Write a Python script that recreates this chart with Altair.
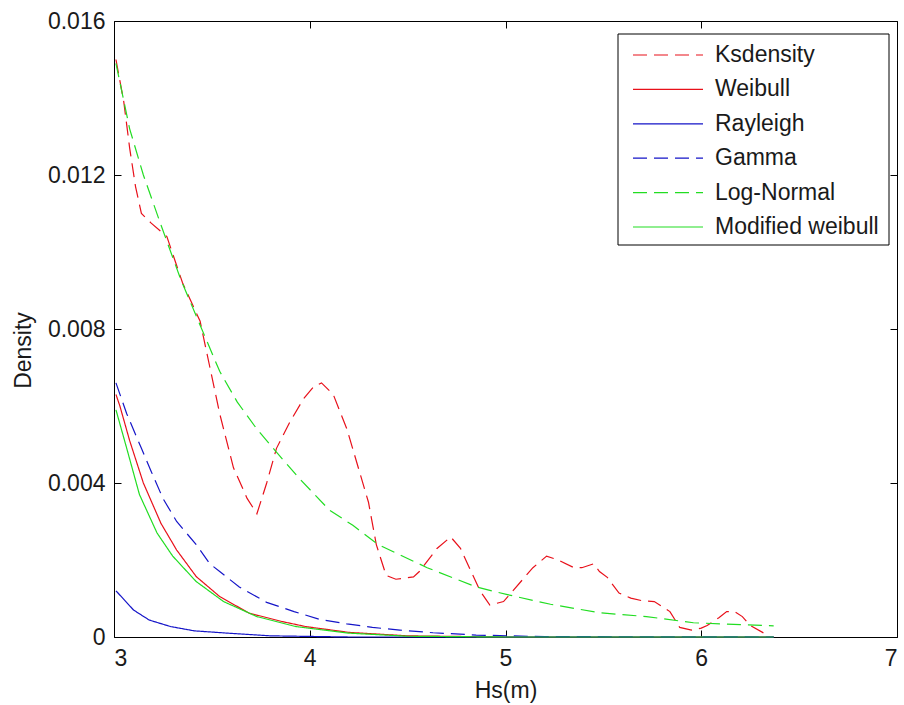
import altair as alt
import pandas as pd

FONT = "Liberation Sans"
TXT = "#1a1a1a"

series_names = ["Ksdensity", "Weibull", "Rayleigh", "Gamma", "Log-Normal", "Modified weibull"]
series_colors = ["#e8101a", "#e8101a", "#1515c8", "#1515c8", "#22dd22", "#22dd22"]
DASH = [14, 7]
SOLID = [1, 0]
series_dash = [DASH, SOLID, SOLID, DASH, DASH, SOLID]

x_ticks = [3, 4, 5, 6, 7]
y_ticks = [0, 0.004, 0.008, 0.012, 0.016]

ks_x = [3.01, 3.05, 3.08, 3.11, 3.14, 3.19, 3.27, 3.35, 3.44, 3.49, 3.54, 3.61, 3.68, 3.73,
        3.78, 3.83, 3.90, 3.97, 4.02, 4.06, 4.12, 4.19, 4.30, 4.34, 4.39, 4.44, 4.53, 4.56,
        4.65, 4.72, 4.77, 4.87, 4.92, 4.99, 5.14, 5.21, 5.27, 5.35, 5.39, 5.45, 5.48, 5.52,
        5.58, 5.64, 5.70, 5.76, 5.84, 5.89, 5.95, 6.00, 6.03, 6.09, 6.13, 6.17, 6.21, 6.25,
        6.32, 6.34]
ks_y = [0.0150, 0.0139, 0.0127, 0.0117, 0.0110, 0.01075, 0.0104, 0.0092, 0.0082, 0.0070,
        0.0058, 0.0044, 0.0036, 0.0032, 0.0040, 0.0049, 0.0056, 0.0062, 0.0065, 0.0066,
        0.0063, 0.0054, 0.0035, 0.0024, 0.0016, 0.0015, 0.00156, 0.0017, 0.0023, 0.0026,
        0.0023, 0.0012, 0.00083, 0.00092, 0.0018, 0.0021, 0.0020, 0.0018, 0.0018, 0.0019,
        0.0017, 0.00155, 0.00114, 0.00101, 0.00094, 0.00092, 0.00066, 0.00025, 0.00018,
        0.00023, 0.0003, 0.0005, 0.00066, 0.00066, 0.00053, 0.0003, 0.0001, 0.00002]

wb_x = [3.01, 3.03, 3.08, 3.15, 3.24, 3.32, 3.42, 3.54, 3.69, 3.86, 3.98, 4.2, 4.5, 5.0, 6.37]
wb_y = [0.0063, 0.0060, 0.0051, 0.0040, 0.00295, 0.00226, 0.00157, 0.00105, 0.00062, 0.0004,
        0.00027, 0.00012, 0.00003, 0.0, 0.0]

ray_x = [3.01, 3.10, 3.18, 3.29, 3.41, 3.58, 3.8, 4.2, 6.37]
ray_y = [0.0012, 0.0007, 0.00044, 0.00027, 0.00016, 0.0001, 0.00003, 0.0, 0.0]

gam_x = [3.01, 3.065, 3.14, 3.19, 3.25, 3.32, 3.42, 3.49, 3.54, 3.64, 3.78, 3.92, 4.05, 4.19,
         4.32, 4.46, 4.63, 4.85, 5.2, 6.37]
gam_y = [0.0066, 0.0058, 0.0049, 0.0043, 0.0036, 0.0030, 0.0024, 0.0019, 0.0017, 0.0013,
         0.0009, 0.00066, 0.00046, 0.00034, 0.00025, 0.00018, 0.00011, 0.00005, 0.00001, 0.0]

ln_x = [3.01, 3.08, 3.15, 3.24, 3.34, 3.44, 3.54, 3.63, 3.73, 3.83, 3.95, 4.10, 4.22, 4.35,
        4.60, 4.85, 5.01, 5.23, 5.48, 5.72, 5.96, 6.20, 6.37]
ln_y = [0.0149, 0.0132, 0.0120, 0.0107, 0.0093, 0.0081, 0.0069, 0.0061, 0.0054, 0.0048,
        0.0041, 0.0033, 0.0029, 0.0024, 0.0018, 0.0013, 0.0011, 0.00085, 0.00063, 0.00053,
        0.00037, 0.00032, 0.00029]

mw_x = [3.01, 3.065, 3.13, 3.22, 3.30, 3.42, 3.56, 3.73, 3.93, 4.2, 4.5, 5.0, 6.37]
mw_y = [0.0059, 0.0049, 0.0037, 0.0027, 0.0021, 0.00144, 0.00092, 0.00053, 0.00027, 0.0001,
        0.00002, 0.0, 0.0]

series_data = [
    ("Ksdensity", ks_x, ks_y),
    ("Weibull", wb_x, wb_y),
    ("Rayleigh", ray_x, ray_y),
    ("Gamma", gam_x, gam_y),
    ("Log-Normal", ln_x, ln_y),
    ("Modified weibull", mw_x, mw_y),
]
rows = []
for name, xs, ys in series_data:
    for xv, yv in zip(xs, ys):
        rows.append({"series": name, "hs": xv, "density": yv})
df = pd.DataFrame(rows)
legend_df = pd.DataFrame({"series": series_names})

x_scale = alt.Scale(domain=[3, 7], nice=False, zero=False)
y_scale = alt.Scale(domain=[0, 0.016], nice=False, zero=False)
color_scale = alt.Scale(domain=series_names, range=series_colors)
dash_scale = alt.Scale(domain=series_names, range=series_dash)

common_axis = dict(domain=False, grid=False, tickSize=7, tickColor="black", tickWidth=1,
                   labelFont=FONT, titleFont=FONT, labelFontSize=23, titleFontSize=23,
                   titleFontWeight="normal", labelColor=TXT, titleColor=TXT)

lines = alt.Chart(df).mark_line(strokeWidth=1.2).encode(
    x=alt.X("hs:Q", scale=x_scale,
            axis=alt.Axis(orient="bottom", offset=-7, values=x_ticks, format="d",
                          title="Hs(m)", labelPadding=10, titleY=60, titleBaseline="middle",
                          **common_axis)),
    y=alt.Y("density:Q", scale=y_scale,
            axis=alt.Axis(orient="left", offset=-7, values=y_ticks,
                          labelExpr="datum.value == 0 ? '0' : format(datum.value, '.3f')",
                          title="Density", labelPadding=9, titleX=-98, titleY=329,
                          titleAngle=270, titleAlign="center", titleBaseline="middle",
                          **common_axis)),
    color=alt.Color("series:N", scale=color_scale, legend=None),
    strokeDash=alt.StrokeDash("series:N", scale=dash_scale, legend=None),
)

frame_ticks = alt.Chart(df).mark_point(opacity=0).encode(
    x=alt.X("hs:Q", scale=x_scale,
            axis=alt.Axis(orient="top", offset=-7, values=x_ticks, labels=False, title=None,
                          **common_axis)),
    y=alt.Y("density:Q", scale=y_scale,
            axis=alt.Axis(orient="right", offset=-7, values=y_ticks, labels=False, title=None,
                          **common_axis)),
)

# legend (box, line samples, labels)
legend_row = alt.Y("series:N", axis=None,
                   scale=alt.Scale(type="point", domain=series_names, range=[34, 206], padding=0))

legend_box = alt.Chart(pd.DataFrame({"k": [0]})).mark_rect(
    fill="white", stroke="black", strokeWidth=1
).encode(x=alt.value(504), x2=alt.value(775), y=alt.value(13), y2=alt.value(224))

legend_lines = alt.Chart(legend_df).mark_rule(strokeWidth=1.2).encode(
    x=alt.value(519), x2=alt.value(589), y=legend_row,
    color=alt.Color("series:N", scale=color_scale, legend=None),
    strokeDash=alt.StrokeDash("series:N", scale=dash_scale, legend=None),
)

legend_text = alt.Chart(legend_df).mark_text(
    align="left", baseline="middle", font=FONT, fontSize=23, color=TXT
).encode(x=alt.value(601), y=legend_row, text="series:N")

chart = alt.layer(lines, frame_ticks, legend_box, legend_lines, legend_text).resolve_axis(
    x="independent", y="independent"
).resolve_scale(y="independent").properties(
    width=783, height=616,
    autosize=alt.AutoSizeParams(type="none"),
    padding={"left": 114, "top": 21, "right": 7, "bottom": 68},
    background="white",
).configure_view(stroke="black", strokeWidth=1)

chart.save("out.html", embed_options={"renderer": "svg", "actions": False})
